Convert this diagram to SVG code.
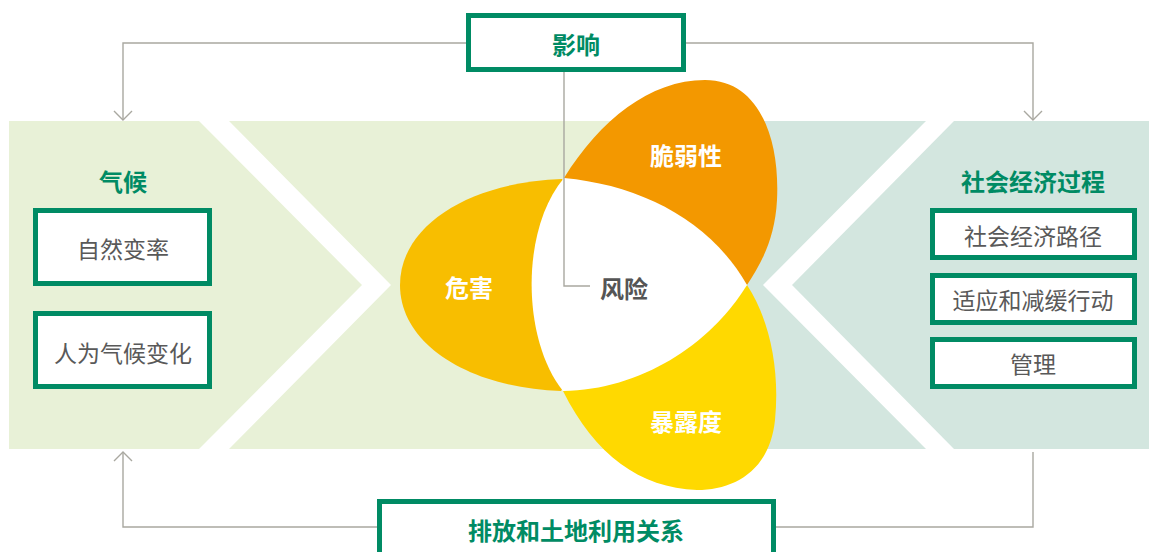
<svg xmlns="http://www.w3.org/2000/svg" width="1149" height="552" viewBox="0 0 1149 552">
<style>
.bg-green{fill:#E8F1D7}
.bg-teal{fill:#D3E6DF}
.box{fill:#FFFFFF;stroke:#008B64;stroke-width:5}
.conn{fill:none;stroke:#A9A8A0;stroke-width:1.4}
.title{font-family:"Noto Sans CJK SC","Noto Sans",sans-serif;font-size:24px;font-weight:bold;fill:#008B64;text-anchor:middle;dominant-baseline:central}
.item{font-family:"Noto Sans CJK SC","Noto Sans",sans-serif;font-size:23px;fill:#595959;text-anchor:middle;dominant-baseline:central}
.petal{font-family:"Noto Sans CJK SC","Noto Sans",sans-serif;font-size:24px;font-weight:bold;fill:#FFFFFF;text-anchor:middle;dominant-baseline:central}
.risk{font-family:"Noto Sans CJK SC","Noto Sans",sans-serif;font-size:24px;font-weight:bold;fill:#555555;text-anchor:middle;dominant-baseline:central}
</style>
<defs>
<marker id="arrow" viewBox="-12 -12 24 24" markerWidth="24" markerHeight="24" markerUnits="userSpaceOnUse" refX="0" refY="0" orient="auto">
<path d="M-9,-9 L0,0 L-9,9" fill="none" stroke="#A9A8A0" stroke-width="1.4"/>
</marker>
</defs>

<g id="background">
<polygon class="bg-green" points="9,121 199,121 362,285 199,449 9,449"/>
<polygon class="bg-green" points="229,121 750,121 750,449 229,449 391,285"/>
<polygon class="bg-teal" points="745,121 926,121 763,285 926,449 745,449"/>
<polygon class="bg-teal" points="954,121 1149,121 1149,449 954,449 792,285"/>
</g>

<g id="connectors">
<path class="conn" d="M576,43 L123,43 L123,120" marker-end="url(#arrow)"/>
<path class="conn" d="M576,43 L1033,43 L1033,120" marker-end="url(#arrow)"/>
<path class="conn" d="M1033,452 L1033,527 L123,527 L123,452" marker-end="url(#arrow)"/>
</g>

<g id="petal-hazard">
<path fill="#F8BE00" d="M562,179 C470,182 400,225 400,285 C400,345 470,388 561,391 C600,340 600,230 562,179 Z"/>
<text class="petal" x="469" y="286">危害</text>
</g>
<g id="petal-vulnerability">
<path fill="#F39800" d="M564,178 C600,120 650,80 705,80 C760,80 780,140 777,200 C775,240 760,265 747,285 C700,260 620,210 564,178 Z"/>
<text class="petal" x="686" y="154">脆弱性</text>
</g>
<g id="petal-exposure">
<path fill="#FFD900" d="M747,285 C770,320 780,370 775,420 C770,470 735,490 697,490 C640,488 595,455 563,391 C640,360 700,320 747,285 Z"/>
<text class="petal" x="686" y="420">暴露度</text>
</g>
<g id="risk">
<path fill="#FFFFFF" d="M564,178 C640,185 710,220 747,285 C710,345 640,390 563,391 C522,340 520,230 564,178 Z"/>
<path class="conn" d="M564,72 L564,286 L590,286"/>
<text class="risk" x="624" y="287">风险</text>
</g>

<g id="impact">
<rect class="box" x="468.5" y="15.5" width="215" height="54"/>
<text class="title" x="576" y="43">影响</text>
</g>

<g id="climate">
<text class="title" x="123" y="180">气候</text>
</g>
<g id="natural-variability">
<rect class="box" x="35.5" y="210.5" width="174" height="73"/>
<text class="item" x="123" y="248">自然变率</text>
</g>
<g id="anthropogenic">
<rect class="box" x="35.5" y="313.5" width="174" height="73"/>
<text class="item" x="123" y="352">人为气候变化</text>
</g>

<g id="socioeconomic">
<text class="title" x="1033" y="180">社会经济过程</text>
</g>
<g id="pathways">
<rect class="box" x="932.5" y="210.5" width="202" height="47"/>
<text class="item" x="1033" y="235">社会经济路径</text>
</g>
<g id="adaptation">
<rect class="box" x="932.5" y="275.5" width="202" height="47"/>
<text class="item" x="1033" y="299">适应和减缓行动</text>
</g>
<g id="governance">
<rect class="box" x="932.5" y="339.5" width="202" height="47"/>
<text class="item" x="1033" y="363">管理</text>
</g>

<g id="emissions">
<rect class="box" x="379.5" y="501.5" width="394" height="70"/>
<text class="title" x="576" y="529">排放和土地利用关系</text>
</g>
</svg>
